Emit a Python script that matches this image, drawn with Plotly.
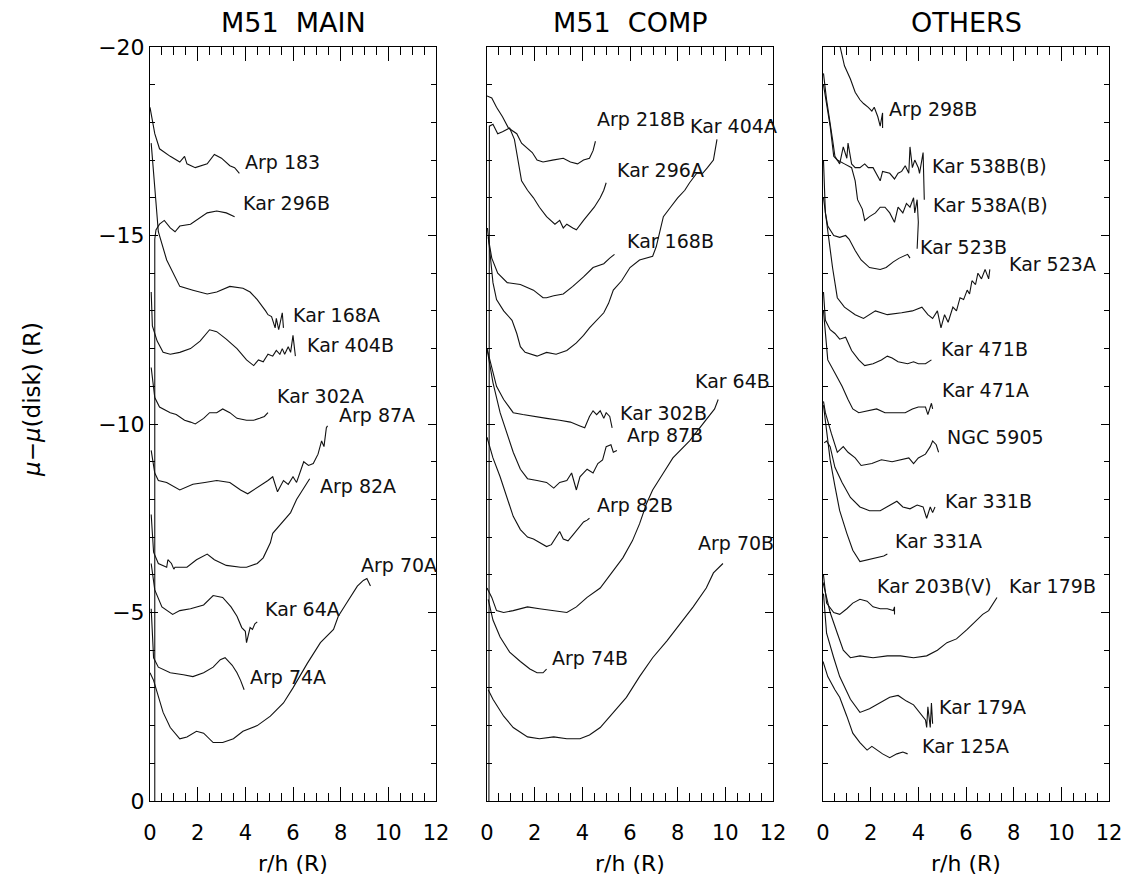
import plotly.graph_objects as go

# ---------------- M51 MAIN ----------------
arp183_x = [0.0, 0.2, 0.4, 0.85, 1.25, 1.45, 1.55, 1.9, 2.4, 2.7, 3.0, 3.35, 3.55, 3.75]
arp183_y = [-18.4, -17.7, -17.3, -17.1, -16.95, -17.1, -16.9, -16.8, -16.9, -17.15, -17.05, -16.85, -16.8, -16.65]
kar296b_x = [0.2, 0.2, 0.25, 0.4, 0.6, 0.85, 1.05, 1.25, 1.7, 1.95, 2.4, 2.8, 3.2, 3.55]
kar296b_y = [0.0, -14.9, -15.15, -15.3, -15.4, -15.2, -15.1, -15.25, -15.3, -15.4, -15.6, -15.65, -15.6, -15.5]
kar168a_x = [0.05, 0.15, 0.35, 0.7, 1.25, 1.8, 2.4, 2.8, 3.35, 3.9, 4.2, 4.5, 4.75, 4.85, 4.95, 5.1, 5.25, 5.3, 5.4, 5.55, 5.6]
kar168a_y = [-17.45, -16.65, -15.1, -14.35, -13.65, -13.55, -13.45, -13.5, -13.65, -13.6, -13.5, -13.3, -13.1, -13.0, -12.9, -12.85, -12.55, -12.8, -12.5, -12.95, -12.55]
kar404b_x = [0.05, 0.1, 0.3, 0.55, 0.85, 1.25, 1.7, 2.1, 2.5, 2.8, 3.2, 3.65, 4.05, 4.35, 4.55, 4.75, 4.95, 5.15, 5.3, 5.45, 5.55, 5.65, 5.8, 5.9, 6.0, 6.1]
kar404b_y = [-13.5, -12.6, -12.2, -11.9, -11.85, -11.9, -12.0, -12.2, -12.5, -12.45, -12.25, -12.0, -11.7, -11.55, -11.7, -11.65, -11.85, -11.8, -11.95, -11.85, -12.0, -11.85, -12.05, -11.9, -12.35, -11.8]
kar302a_x = [0.05, 0.2, 0.4, 0.85, 1.1, 1.45, 1.7, 1.9, 2.25, 2.5, 2.8, 3.05, 3.35, 3.65, 4.05, 4.35, 4.6, 4.8, 4.95]
kar302a_y = [-11.5, -10.7, -10.45, -10.3, -10.25, -10.1, -10.05, -10.0, -10.15, -10.3, -10.3, -10.4, -10.3, -10.15, -10.1, -10.1, -10.15, -10.2, -10.3]
arp87a_x = [0.05, 0.1, 0.2, 0.35, 0.7, 1.25, 1.8, 2.3, 2.8, 3.35, 3.8, 4.1, 4.6, 4.95, 5.15, 5.35, 5.6, 5.8, 6.0, 6.15, 6.45, 6.65, 6.85, 7.05, 7.2, 7.3, 7.4, 7.45]
arp87a_y = [-9.3, -9.1, -8.7, -8.5, -8.45, -8.25, -8.4, -8.45, -8.5, -8.45, -8.25, -8.15, -8.35, -8.5, -8.6, -8.2, -8.5, -8.4, -8.6, -8.45, -9.0, -8.9, -8.95, -9.2, -9.55, -9.4, -9.9, -9.95]
arp82a_x = [0.05, 0.15, 0.35, 0.7, 0.75, 0.9, 1.0, 1.05, 1.55, 1.95, 2.4, 2.7, 3.2, 3.8, 4.05, 4.5, 4.75, 5.05, 5.15, 5.5, 5.9, 6.15, 6.45, 6.7]
arp82a_y = [-7.6, -6.6, -6.3, -6.2, -6.4, -6.3, -6.15, -6.2, -6.2, -6.4, -6.55, -6.4, -6.25, -6.2, -6.2, -6.3, -6.45, -6.85, -7.1, -7.35, -7.65, -8.0, -8.3, -8.55]
arp70a_x = [0.0, 0.15, 0.55, 0.85, 1.25, 1.55, 1.95, 2.25, 2.65, 3.05, 3.5, 3.9, 4.5, 5.05, 5.6, 6.0, 6.6, 7.15, 7.7, 7.9, 8.25, 8.7, 8.95, 9.1, 9.25]
arp70a_y = [-3.4, -3.2, -2.35, -1.95, -1.65, -1.7, -1.85, -1.8, -1.55, -1.55, -1.65, -1.85, -2.0, -2.25, -2.6, -3.0, -3.65, -4.2, -4.55, -4.9, -5.25, -5.7, -5.85, -5.9, -5.7]
kar64a_x = [0.05, 0.2, 0.5, 0.95, 1.25, 1.7, 2.25, 2.65, 3.05, 3.4, 3.65, 3.85, 4.0, 4.05, 4.2, 4.3, 4.4, 4.5]
kar64a_y = [-6.3, -5.6, -5.15, -4.95, -5.05, -5.1, -5.2, -5.45, -5.4, -5.15, -4.9, -4.6, -4.5, -4.2, -4.6, -4.55, -4.7, -4.75]
arp74a_x = [0.05, 0.15, 0.35, 0.85, 1.4, 1.8, 2.25, 2.65, 2.95, 3.15, 3.45, 3.65, 3.8, 3.95]
arp74a_y = [-5.1, -3.8, -3.55, -3.4, -3.35, -3.3, -3.4, -3.55, -3.75, -3.8, -3.6, -3.4, -3.2, -2.95]

# ---------------- M51 COMP ----------------
arp218b_x = [0.0, 0.2, 0.4, 0.65, 0.9, 1.25, 1.45, 1.65, 1.9, 2.1, 2.35, 2.75, 3.2, 3.5, 3.8, 4.05, 4.3, 4.45, 4.55]
arp218b_y = [-18.7, -18.65, -18.4, -18.15, -17.85, -17.7, -17.45, -17.35, -17.2, -17.0, -16.95, -17.0, -17.05, -16.95, -16.9, -17.0, -17.05, -17.25, -17.5]
kar296a_x = [0.08, 0.1, 0.25, 0.45, 0.65, 0.95, 1.15, 1.3, 1.45, 1.7, 1.95, 2.2, 2.5, 2.85, 3.05, 3.2, 3.35, 3.6, 3.75, 4.05, 4.3, 4.5, 4.75, 4.9, 5.0]
kar296a_y = [0.0, -17.9, -17.95, -17.7, -17.75, -17.85, -17.55, -17.0, -16.45, -16.2, -16.0, -15.75, -15.5, -15.3, -15.4, -15.2, -15.3, -15.2, -15.15, -15.4, -15.6, -15.75, -16.0, -16.2, -16.4]
kar404a_x = [0.02, 0.25, 0.4, 0.7, 1.05, 1.25, 1.4, 1.6, 2.1, 2.5, 2.9, 3.35, 3.75, 4.05, 4.3, 4.6, 4.9, 5.1, 5.3, 5.65, 6.0, 6.4, 6.95, 7.1, 7.4, 7.7, 8.0, 8.3, 8.5, 8.8, 9.05, 9.25, 9.5, 9.65]
kar404a_y = [-15.2, -13.75, -13.3, -13.0, -12.75, -12.4, -12.05, -11.9, -11.8, -11.9, -11.85, -11.95, -12.15, -12.35, -12.55, -12.75, -12.95, -13.2, -13.55, -13.8, -14.15, -14.35, -14.45, -14.7, -15.5, -15.75, -16.0, -16.2, -16.4, -16.65, -16.65, -16.8, -17.0, -17.55]
kar168b_x = [0.05, 0.2, 0.45, 0.85, 1.4, 1.95, 2.35, 2.5, 2.8, 3.2, 3.6, 4.05, 4.45, 4.9, 5.15, 5.35]
kar168b_y = [-14.95, -14.4, -14.0, -13.75, -13.7, -13.55, -13.35, -13.35, -13.4, -13.45, -13.65, -13.9, -14.15, -14.25, -14.4, -14.5]
kar302b_x = [0.0, 0.2, 0.4, 0.7, 1.1, 1.5, 1.95, 2.5, 3.05, 3.5, 3.9, 4.1, 4.3, 4.45, 4.6, 4.75, 4.9, 5.0, 5.15, 5.25]
kar302b_y = [-12.0, -11.5, -11.0, -10.65, -10.3, -10.25, -10.2, -10.15, -10.1, -10.05, -9.95, -9.9, -10.2, -10.35, -10.25, -10.35, -10.15, -10.3, -10.2, -9.9]
arp87b_x = [0.0, 0.25, 0.55, 0.85, 1.1, 1.4, 1.7, 2.1, 2.5, 2.8, 3.05, 3.35, 3.55, 3.75, 3.9, 4.2, 4.45, 4.65, 4.85, 5.0, 5.2, 5.3, 5.45]
arp87b_y = [-12.0, -11.1, -10.3, -9.75, -9.25, -8.8, -8.55, -8.5, -8.45, -8.3, -8.45, -8.5, -8.7, -8.25, -8.6, -8.8, -8.7, -8.95, -9.05, -9.4, -9.45, -9.25, -9.3]
arp82b_x = [0.0, 0.25, 0.55, 0.85, 1.1, 1.4, 1.7, 1.95, 2.2, 2.5, 2.7, 2.9, 3.05, 3.2, 3.4, 3.6, 3.8, 4.05, 4.2, 4.3]
arp82b_y = [-9.65, -9.1, -8.6, -8.05, -7.55, -7.2, -7.0, -6.95, -6.85, -6.75, -6.8, -7.0, -7.15, -6.95, -6.9, -7.05, -7.2, -7.4, -7.45, -7.5]
kar64b_x = [0.0, 0.2, 0.4, 0.7, 1.1, 1.7, 2.2, 2.8, 3.35, 3.75, 4.2, 4.75, 5.3, 5.7, 6.1, 6.4, 6.7, 6.95, 7.4, 7.8, 8.5, 9.2, 9.55, 9.7]
kar64b_y = [-5.65, -5.4, -5.05, -5.0, -5.05, -5.15, -5.1, -5.05, -5.0, -5.15, -5.4, -5.65, -6.1, -6.45, -6.9, -7.35, -7.9, -8.25, -8.7, -9.1, -9.55, -10.1, -10.4, -10.65]
arp70b_x = [0.05, 0.25, 0.7, 1.1, 1.7, 2.2, 2.8, 3.35, 3.9, 4.3, 4.75, 5.3, 5.85, 6.4, 6.95, 7.55, 8.1, 8.65, 9.2, 9.5, 9.9]
arp70b_y = [-2.95, -2.7, -2.25, -1.95, -1.7, -1.65, -1.7, -1.65, -1.65, -1.75, -1.95, -2.35, -2.75, -3.3, -3.8, -4.25, -4.7, -5.15, -5.65, -6.05, -6.3]
arp74b_x = [0.05, 0.25, 0.55, 0.95, 1.4, 1.8, 2.1, 2.35, 2.5]
arp74b_y = [-5.35, -4.8, -4.35, -3.95, -3.7, -3.5, -3.4, -3.4, -3.5]

# ---------------- OTHERS ----------------
arp298b_x = [0.65, 0.9, 1.15, 1.35, 1.55, 1.7, 1.9, 2.05, 2.15, 2.3, 2.4, 2.5, 2.5]
arp298b_y = [-20.2, -19.5, -19.15, -18.8, -18.6, -18.5, -18.4, -18.3, -18.4, -18.15, -17.9, -18.25, -17.85]
kar538bb_x = [0.02, 0.15, 0.4, 0.5, 0.7, 0.85, 1.0, 1.05, 1.2, 1.35, 1.55, 1.75, 1.9, 2.1, 2.4, 2.5, 2.8, 3.0, 3.15, 3.3, 3.45, 3.6, 3.65, 3.75, 3.85, 4.0, 4.05, 4.2, 4.25]
kar538bb_y = [-19.3, -18.6, -17.55, -17.1, -16.9, -17.35, -17.05, -17.45, -16.9, -16.8, -16.8, -16.9, -16.8, -16.8, -16.45, -16.7, -16.65, -16.5, -16.65, -16.7, -16.85, -16.65, -17.35, -16.8, -17.0, -16.8, -16.65, -17.2, -15.95]
kar538ab_x = [0.02, 0.3, 0.45, 0.6, 0.9, 1.2, 1.35, 1.45, 1.65, 1.75, 1.95, 2.2, 2.4, 2.6, 2.8, 3.0, 3.15, 3.35, 3.5, 3.65, 3.8, 3.85, 3.95, 4.0, 3.95]
kar538ab_y = [-19.0, -17.9, -17.1, -17.0, -16.9, -16.8, -16.45, -15.95, -15.7, -15.4, -15.5, -15.6, -15.75, -15.75, -15.6, -15.35, -15.75, -15.6, -15.85, -15.75, -16.0, -15.6, -15.95, -15.35, -14.65]
kar523b_x = [0.02, 0.1, 0.2, 0.45, 0.7, 0.95, 1.1, 1.35, 1.6, 1.95, 2.4, 2.65, 2.95, 3.2, 3.55, 3.65]
kar523b_y = [-17.0, -15.6, -15.25, -15.0, -14.95, -15.0, -14.9, -14.6, -14.35, -14.15, -14.1, -14.15, -14.3, -14.4, -14.5, -14.4]
kar523a_x = [0.02, 0.4, 0.6, 0.9, 1.35, 1.7, 2.2, 2.7, 3.3, 3.75, 4.15, 4.4, 4.6, 4.8, 4.95, 5.1, 5.25, 5.45, 5.6, 5.75, 5.9, 6.05, 6.15, 6.25, 6.4, 6.5, 6.65, 6.8, 6.95, 7.0]
kar523a_y = [-16.0, -14.15, -13.35, -13.1, -12.9, -12.8, -13.0, -12.9, -12.95, -13.0, -13.1, -12.9, -12.8, -13.0, -12.55, -12.9, -12.7, -13.1, -13.0, -13.35, -13.3, -13.55, -13.45, -13.8, -13.7, -14.0, -13.85, -14.1, -13.85, -14.1]
kar471b_x = [0.02, 0.1, 0.3, 0.5, 0.7, 0.95, 1.2, 1.5, 1.75, 2.1, 2.45, 2.7, 2.9, 3.15, 3.55, 3.8, 4.0, 4.3, 4.55]
kar471b_y = [-13.5, -12.75, -12.5, -12.4, -12.25, -12.3, -11.95, -11.7, -11.55, -11.6, -11.7, -11.8, -11.75, -11.65, -11.6, -11.65, -11.6, -11.6, -11.7]
kar471a_x = [0.02, 0.2, 0.5, 0.8, 1.05, 1.25, 1.5, 1.9, 2.25, 2.6, 3.0, 3.45, 3.75, 4.0, 4.3, 4.4, 4.55, 4.6]
kar471a_y = [-13.0, -11.7, -11.35, -11.0, -10.65, -10.4, -10.3, -10.35, -10.4, -10.3, -10.3, -10.3, -10.4, -10.45, -10.45, -10.25, -10.55, -10.4]
ngc5905_x = [0.02, 0.1, 0.35, 0.6, 0.85, 1.05, 1.35, 1.6, 2.05, 2.45, 2.9, 3.3, 3.6, 3.8, 4.0, 4.3, 4.5, 4.6, 4.75, 4.85]
ngc5905_y = [-10.6, -10.3, -9.75, -9.25, -9.4, -9.25, -9.1, -8.9, -8.95, -9.05, -9.0, -9.05, -9.1, -8.95, -9.1, -9.2, -9.4, -9.55, -9.45, -9.25]
kar331b_x = [0.05, 0.15, 0.3, 0.5, 0.8, 1.15, 1.55, 1.95, 2.4, 2.8, 3.1, 3.35, 3.65, 3.95, 4.2, 4.35, 4.5, 4.6, 4.7]
kar331b_y = [-9.5, -9.55, -9.4, -8.85, -8.45, -8.05, -7.8, -7.7, -7.7, -7.85, -7.95, -7.8, -7.75, -7.85, -7.8, -7.5, -7.8, -7.65, -7.8]
kar331a_x = [0.02, 0.3, 0.5, 0.7, 1.0, 1.25, 1.55, 1.85, 2.25, 2.55, 2.7]
kar331a_y = [-10.5, -9.05, -8.35, -7.7, -7.1, -6.65, -6.35, -6.4, -6.45, -6.5, -6.55]
kar203bv_x = [0.02, 0.15, 0.45, 0.7, 1.0, 1.25, 1.55, 1.85, 2.1, 2.4, 2.7, 2.95, 3.0, 3.0]
kar203bv_y = [-6.0, -5.25, -5.0, -4.95, -5.1, -5.25, -5.35, -5.3, -5.15, -5.1, -5.1, -5.05, -5.15, -4.95]
kar179b_x = [0.0, 0.3, 0.6, 0.85, 1.15, 1.55, 2.1, 2.7, 3.25, 3.8, 4.35, 4.8, 5.2, 5.6, 6.05, 6.45, 6.7, 6.95, 7.15, 7.3]
kar179b_y = [-5.8, -5.0, -4.45, -4.0, -3.8, -3.85, -3.8, -3.85, -3.85, -3.8, -3.85, -4.0, -4.2, -4.3, -4.55, -4.8, -4.95, -5.05, -5.25, -5.4]
kar179a_x = [0.02, 0.15, 0.45, 0.7, 1.15, 1.55, 1.95, 2.1, 2.4, 2.8, 3.15, 3.5, 3.8, 4.05, 4.3, 4.35, 4.4, 4.5, 4.55, 4.6]
kar179a_y = [-5.5, -4.45, -3.8, -3.3, -2.7, -2.35, -2.45, -2.5, -2.6, -2.75, -2.8, -2.65, -2.55, -2.35, -2.15, -1.95, -2.5, -1.95, -2.6, -2.05]
kar125a_x = [0.0, 0.2, 0.5, 0.7, 1.0, 1.25, 1.55, 1.85, 2.05, 2.25, 2.5, 2.8, 3.1, 3.35, 3.55]
kar125a_y = [-3.7, -3.3, -2.95, -2.75, -2.25, -1.8, -1.55, -1.35, -1.45, -1.35, -1.25, -1.15, -1.25, -1.3, -1.25]

panel_titles = ["M51  MAIN", "M51  COMP", "OTHERS"]
x_ticks = [0, 2, 4, 6, 8, 10, 12]
y_ticks = [-20, -15, -10, -5, 0]

# (panel index, name, x, y, label x, label y)
curves = [
    (1, "Arp 183", arp183_x, arp183_y, 3.9, -16.95),
    (1, "Kar 296B", kar296b_x, kar296b_y, 3.8, -15.85),
    (1, "Kar 168A", kar168a_x, kar168a_y, 5.9, -12.9),
    (1, "Kar 404B", kar404b_x, kar404b_y, 6.5, -12.1),
    (1, "Kar 302A", kar302a_x, kar302a_y, 5.25, -10.75),
    (1, "Arp 87A", arp87a_x, arp87a_y, 7.85, -10.25),
    (1, "Arp 82A", arp82a_x, arp82a_y, 7.05, -8.35),
    (1, "Arp 70A", arp70a_x, arp70a_y, 8.75, -6.25),
    (1, "Kar 64A", kar64a_x, kar64a_y, 4.75, -5.1),
    (1, "Arp 74A", arp74a_x, arp74a_y, 4.1, -3.3),
    (2, "Arp 218B", arp218b_x, arp218b_y, 4.55, -18.1),
    (2, "Kar 404A", kar404a_x, kar404a_y, 8.45, -17.9),
    (2, "Kar 296A", kar296a_x, kar296a_y, 5.35, -16.75),
    (2, "Kar 168B", kar168b_x, kar168b_y, 5.8, -14.85),
    (2, "Kar 64B", kar64b_x, kar64b_y, 8.65, -11.15),
    (2, "Kar 302B", kar302b_x, kar302b_y, 5.5, -10.3),
    (2, "Arp 87B", arp87b_x, arp87b_y, 5.8, -9.7),
    (2, "Arp 82B", arp82b_x, arp82b_y, 4.55, -7.85),
    (2, "Arp 70B", arp70b_x, arp70b_y, 8.75, -6.85),
    (2, "Arp 74B", arp74b_x, arp74b_y, 2.65, -3.8),
    (3, "Arp 298B", arp298b_x, arp298b_y, 2.7, -18.35),
    (3, "Kar 538B(B)", kar538bb_x, kar538bb_y, 4.5, -16.85),
    (3, "Kar 538A(B)", kar538ab_x, kar538ab_y, 4.55, -15.8),
    (3, "Kar 523B", kar523b_x, kar523b_y, 4.0, -14.7),
    (3, "Kar 523A", kar523a_x, kar523a_y, 7.7, -14.25),
    (3, "Kar 471B", kar471b_x, kar471b_y, 4.85, -12.0),
    (3, "Kar 471A", kar471a_x, kar471a_y, 4.9, -10.9),
    (3, "NGC 5905", ngc5905_x, ngc5905_y, 5.1, -9.65),
    (3, "Kar 331B", kar331b_x, kar331b_y, 5.05, -7.95),
    (3, "Kar 331A", kar331a_x, kar331a_y, 2.95, -6.9),
    (3, "Kar 203B(V)", kar203bv_x, kar203bv_y, 2.2, -5.7),
    (3, "Kar 179B", kar179b_x, kar179b_y, 7.7, -5.7),
    (3, "Kar 179A", kar179a_x, kar179a_y, 4.8, -2.5),
    (3, "Kar 125A", kar125a_x, kar125a_y, 4.05, -1.45),
]

W, H = 1123, 877
px_left = [150, 487, 823]
px_width = 286
py_top, py_bot = 47, 801

FONT = "DejaVu Sans"
fig = go.Figure()
annotations = []
for p, name, xs, ys, lx, ly in curves:
    suffix = "" if p == 1 else str(p)
    fig.add_trace(go.Scatter(x=xs, y=ys, mode="lines", name=name,
                             line=dict(color="#111111", width=1.1),
                             xaxis="x" + suffix, yaxis="y" + suffix,
                             showlegend=False, hoverinfo="skip"))
    annotations.append(dict(x=lx, y=ly, xref="x" + suffix, yref="y" + suffix,
                            text=name, showarrow=False, xanchor="left", yanchor="middle",
                            font=dict(family=FONT, size=19, color="#111111")))

layout = dict(width=W, height=H, margin=dict(l=0, r=0, t=0, b=0, autoexpand=False),
              paper_bgcolor="white", plot_bgcolor="white", showlegend=False)

for i in range(3):
    suffix = "" if i == 0 else str(i + 1)
    x0 = px_left[i] / W
    x1 = (px_left[i] + px_width) / W
    layout["xaxis" + suffix] = dict(
        domain=[x0, x1], range=[0, 12], anchor="y" + suffix,
        tickmode="array", tickvals=x_ticks, ticktext=[str(v) for v in x_ticks],
        ticks="inside", ticklen=14, tickwidth=1, tickcolor="black",
        minor=dict(dtick=0.5, ticks="inside", ticklen=8, tickwidth=1, tickcolor="black"),
        showline=True, linecolor="black", linewidth=1, mirror="allticks",
        showgrid=False, zeroline=False, ticklabelstandoff=13,
        tickfont=dict(family=FONT, size=21, color="black"))
    layout["yaxis" + suffix] = dict(
        domain=[1 - py_bot / H, 1 - py_top / H], range=[0, -20], anchor="x" + suffix,
        tickmode="array", tickvals=y_ticks, ticktext=["\u221220", "\u221215", "\u221210", "\u22125", "0"],
        showticklabels=(i == 0),
        ticks="inside", ticklen=8, tickwidth=1, tickcolor="black",
        minor=dict(dtick=1, ticks="inside", ticklen=5, tickwidth=1, tickcolor="black"),
        showline=True, linecolor="black", linewidth=1, mirror="allticks",
        showgrid=False, zeroline=False,
        tickfont=dict(family=FONT, size=22, color="black"))
    cx = (px_left[i] + px_width / 2) / W
    annotations.append(dict(x=cx, y=1 - 23 / H, xref="paper", yref="paper",
                            text=panel_titles[i], showarrow=False,
                            xanchor="center", yanchor="middle",
                            font=dict(family=FONT, size=27, color="black")))
    annotations.append(dict(x=cx, y=1 - 863 / H, xref="paper", yref="paper",
                            text="r/h (R)", showarrow=False,
                            xanchor="center", yanchor="middle",
                            font=dict(family=FONT, size=22, color="black")))

annotations.append(dict(x=32 / W, y=1 - 400 / H, xref="paper", yref="paper",
                        text="<i>\u03bc</i>\u2212<i>\u03bc</i>(disk) (R)", showarrow=False,
                        textangle=-90, xanchor="center", yanchor="middle",
                        font=dict(family=FONT, size=23, color="black")))

layout["annotations"] = annotations
fig.update_layout(**layout)
fig.write_html("out.html")
